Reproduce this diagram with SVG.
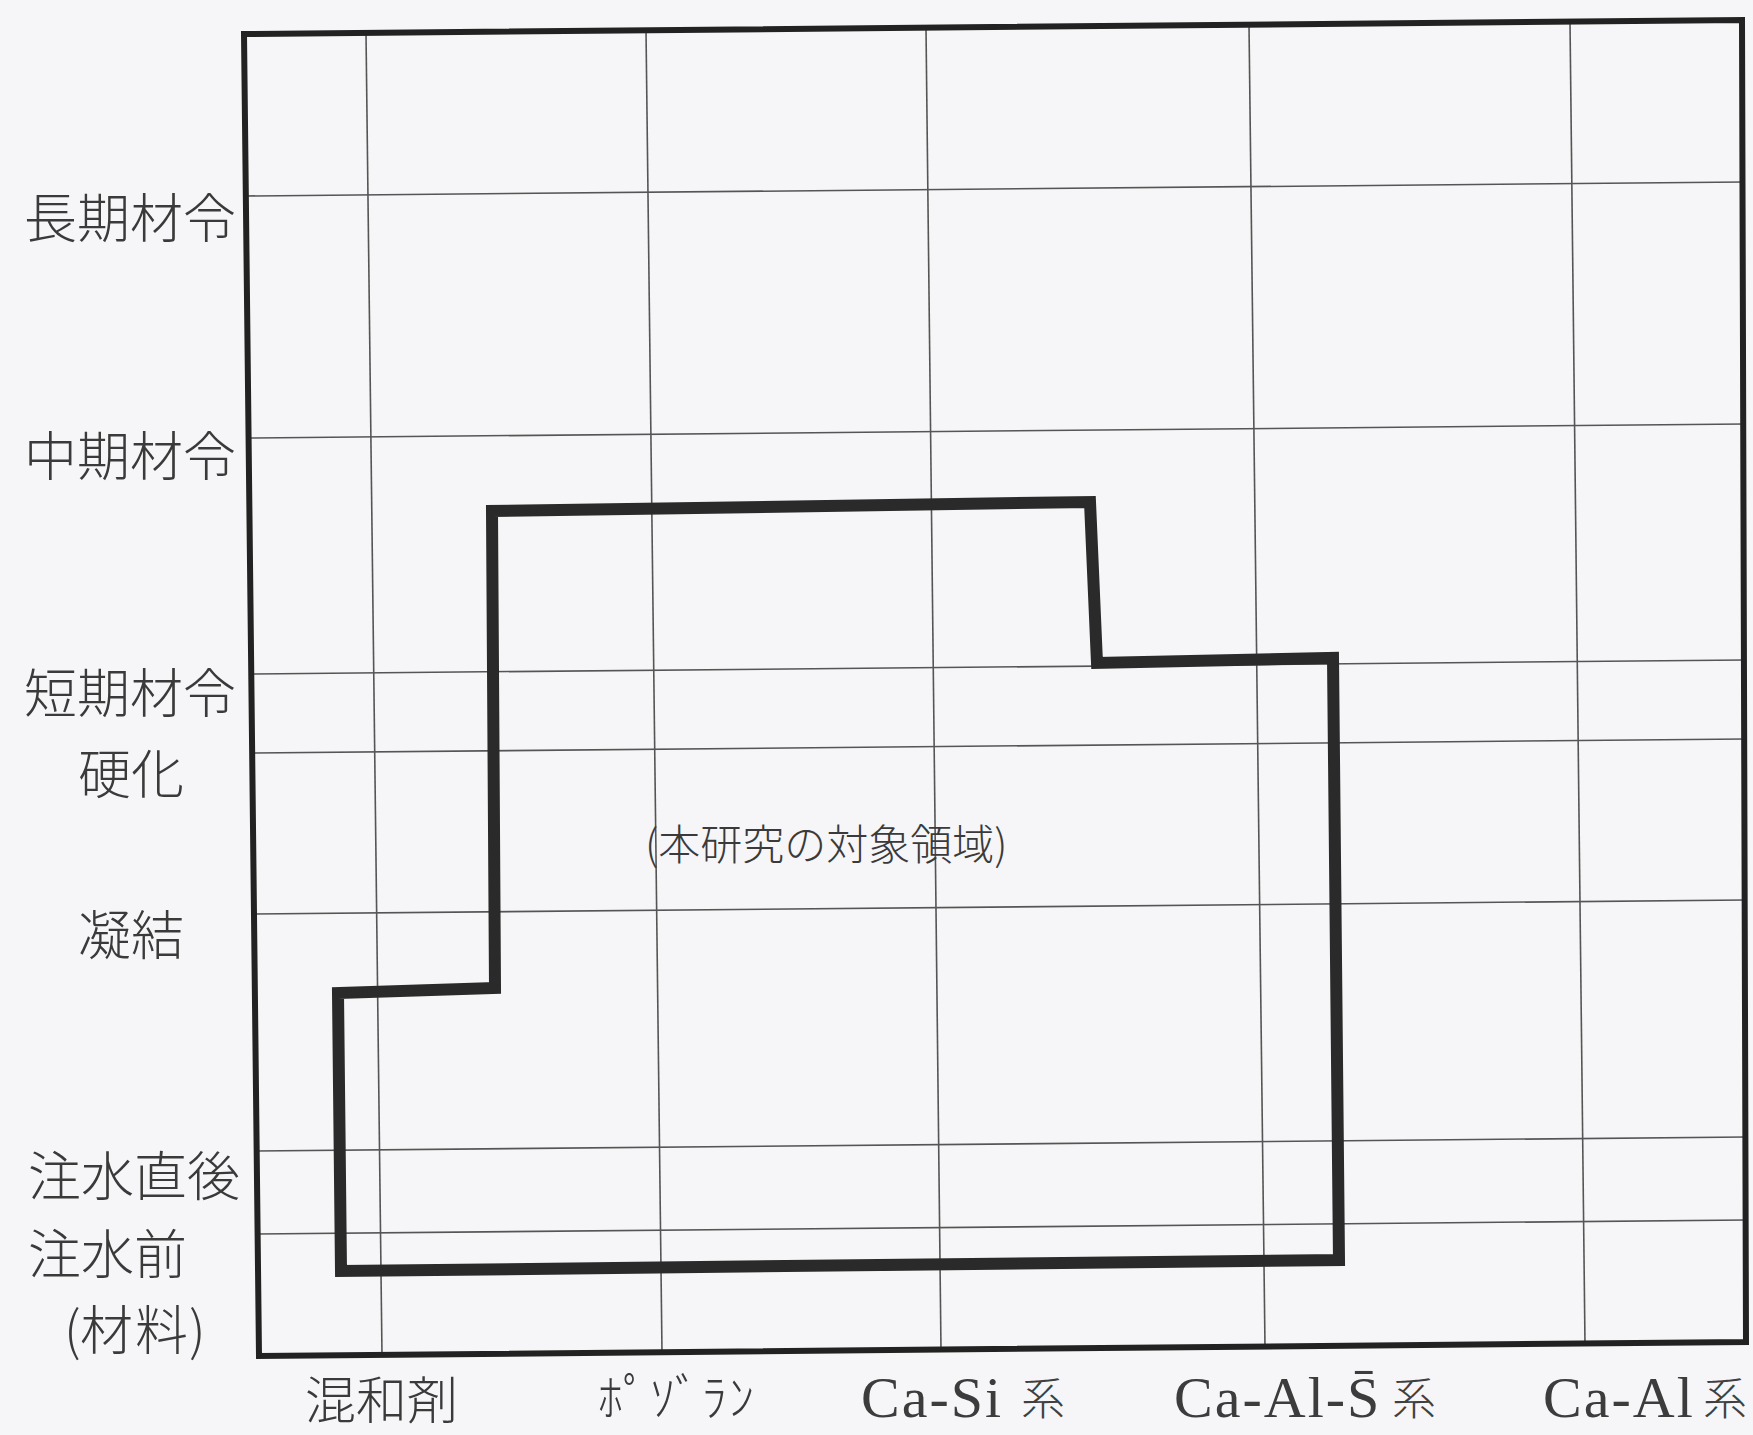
<svg xmlns="http://www.w3.org/2000/svg" width="1753" height="1435" viewBox="0 0 1753 1435">
<style>
.jp{font-family:"Noto Sans CJK JP","Noto Sans CJK SC",sans-serif;font-size:53px;fill:#3a3a3a;font-weight:300}
.lat{font-family:"Liberation Serif","Times New Roman",serif;font-size:58px;fill:#3c3c3c}
.kei{font-family:"Noto Sans CJK JP","Noto Sans CJK SC",sans-serif;font-size:44px;fill:#404040;font-weight:300}
.grid{stroke:#555;stroke-width:1.6;fill:none}
.frame{stroke:#222;stroke-width:6;fill:none}
.region{stroke:#2a2a2a;stroke-width:12;fill:none;stroke-linejoin:miter}
</style>
<rect width="1753" height="1435" fill="#f6f5f7"/>
<g id="grid" class="grid">
<line x1="366" y1="33" x2="382" y2="1355"/>
<line x1="646" y1="30" x2="662" y2="1352"/>
<line x1="926" y1="28" x2="941" y2="1350"/>
<line x1="1249" y1="25" x2="1265" y2="1347"/>
<line x1="1570" y1="22" x2="1585" y2="1344"/>
<line x1="246" y1="196" x2="1744" y2="182"/>
<line x1="249" y1="438" x2="1745" y2="424"/>
<line x1="251" y1="674" x2="1745" y2="660"/>
<line x1="252" y1="753" x2="1745" y2="739"/>
<line x1="254" y1="914" x2="1745" y2="900"/>
<line x1="256" y1="1151" x2="1746" y2="1137"/>
<line x1="257" y1="1234" x2="1746" y2="1220"/>
</g>
<g id="frame">
<polygon class="frame" points="244,34 1742,20 1746,1342 259,1356"/>
</g>
<g id="region">
<polygon class="region" points="341,1271 338,993 495,988 492,511 1090,502 1097,663 1333,658 1339,1260"/>
</g>
<g id="labels-y">
<text class="jp" x="24" y="238">長期材令</text>
<text class="jp" x="24" y="476">中期材令</text>
<text class="jp" x="24" y="713">短期材令</text>
<text class="jp" x="78" y="794">硬化</text>
<text class="jp" x="78" y="955">凝結</text>
<text class="jp" x="28" y="1196">注水直後</text>
<text class="jp" x="28" y="1274">注水前</text>
<text class="jp" x="64" y="1350">(<tspan x="80">材</tspan><tspan x="135">料</tspan><tspan x="189">)</tspan></text>
</g>
<g id="labels-x">
<text class="jp" x="305" y="1419" style="font-size:51px">混和剤</text>
<text class="jp" x="598" y="1416" style="font-size:50px;letter-spacing:2px">ﾎﾟｿﾞﾗﾝ</text>
<text class="lat" x="861" y="1417" style="letter-spacing:2px">Ca-Si</text>
<text class="kei" x="1021" y="1415">系</text>
<text class="lat" x="1174" y="1417" style="letter-spacing:2px">Ca-Al-S&#x0304;</text>
<text class="kei" x="1392" y="1415">系</text>
<text class="lat" x="1543" y="1417" style="letter-spacing:2px">Ca-Al</text>
<text class="kei" x="1703" y="1415">系</text>
</g>
<g id="center-label">
<text class="jp" x="645" y="860" style="font-size:42px">(本研究の対象領域)</text>
</g>
</svg>
